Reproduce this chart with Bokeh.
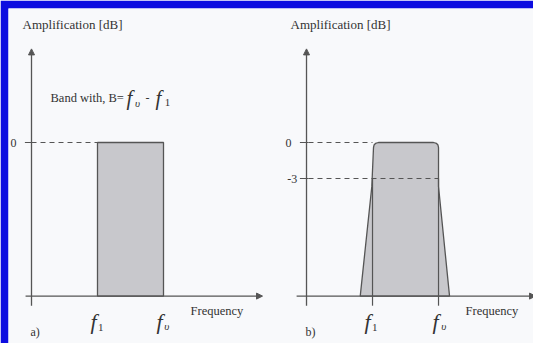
from bokeh.plotting import figure
from bokeh.models import Arrow, NormalHead, Range1d
from bokeh.core.properties import value
from bokeh.embed import file_html
from bokeh.resources import INLINE

# ---------------- data ----------------
f_lower = 1.0          # f1 (normalised frequency units)
f_upper = 2.0          # f_upsilon
passband_db = 0.0      # 0 dB level
cutoff_db = -3.0       # -3 dB level
floor_db = -12.8       # level where the frequency axis sits
y_tick_values_a = [0.0]
y_tick_labels_a = ["0"]
y_tick_values_b = [0.0, -3.0]
y_tick_labels_b = ["0", "-3"]
# panel b: real band-pass response outline (frequency, gain dB)
real_freq = [0.814, 0.989, 1.015, 1.023, 1.045, 1.09, 1.924, 1.97, 1.992, 2.0, 2.0, 2.167]
real_gain = [-12.8, -3.7, -0.42, -0.21, -0.08, 0.0, 0.0, -0.08, -0.21, -0.42, -3.67, -12.8]

# ---------------- style ----------------
BG = "#f8f9fb"
FRAME = "#0d0de0"
LINE = "#555555"
FILL = "#c8c8cc"
TXT = "#333333"
SERIF = value("Liberation Serif")

# one canvas, two panels: panel a on the default x range, panel b on "b"
p = figure(width=533, height=343, x_range=Range1d(-0.3485, 7.606),
           y_range=Range1d(-16.75, 11.167), x_axis_type=None, y_axis_type=None,
           toolbar_location=None, output_backend="svg", min_border=0)
p.extra_x_ranges = {"b": Range1d(-4.515, 3.439)}
p.min_border_top = 8
p.min_border_left = 8
p.grid.visible = False
p.outline_line_color = None
p.background_fill_color = BG
p.border_fill_color = FRAME


def axes(xr, x_left, x_tip):
    head = dict(size=6, fill_color=LINE, line_color=LINE)
    p.add_layout(Arrow(end=NormalHead(**head), x_start=0, y_start=-13.6, x_end=0, y_end=7.8,
                       line_color=LINE, line_width=1.3, x_range_name=xr))
    p.add_layout(Arrow(end=NormalHead(**head), x_start=x_left, y_start=floor_db, x_end=x_tip,
                       y_end=floor_db, line_color=LINE, line_width=1.3, x_range_name=xr))


def txt(xr, x, y, s, size="13px", style="normal", align="left"):
    p.text(x=[x], y=[y], text=[s], text_font=SERIF, text_font_size=value(size),
           text_font_style=value(style), text_color=TXT, text_align=align,
           text_baseline="middle", x_range_name=xr)


# ---------------- panel a: ideal ----------------
A = "default"
p.quad(left=[f_lower], right=[f_upper], top=[passband_db], bottom=[floor_db],
       fill_color=FILL, line_color=LINE, line_width=1.3)
axes(A, -0.09, 3.5)
for v in y_tick_values_a:
    p.segment(x0=[-0.1], y0=[v], x1=[0.05], y1=[v], line_color=LINE, line_width=1.2)
p.line(x=[0, f_lower], y=[passband_db, passband_db], line_color=LINE, line_width=1.2,
       line_dash="5 4")
for v, s in zip(y_tick_values_a, y_tick_labels_a):
    txt(A, -0.273, v, s, "12px", align="center")
txt(A, -0.136, 9.83, "Amplification [dB]")
txt(A, 0.288, 3.75, "Band with, B=", "12.5px")
txt(A, 1.485, 3.75, "f", "21px", "italic", "center")
txt(A, 1.606, 3.3, "υ", "11px", "italic", "center")
txt(A, 1.758, 3.75, "-", "12px", align="center")
txt(A, 1.924, 3.75, "f", "21px", "italic", "center")
txt(A, 2.06, 3.3, "1", "11px", align="center")
txt(A, f_lower - 0.061, -14.92, "f", "22px", "italic", "center")
txt(A, f_lower + 0.05, -15.42, "1", "11px", align="center")
txt(A, f_upper - 0.061, -14.92, "f", "22px", "italic", "center")
txt(A, f_upper + 0.05, -15.33, "υ", "11px", "italic", "center")
txt(A, 2.41, -14.0, "Frequency", "12.5px")
txt(A, -0.015, -15.75, "a)", "12px")

# ---------------- panel b: real ----------------
B = "b"
p.patch(x=real_freq, y=real_gain, fill_color=FILL, line_color=LINE, line_width=1.3,
        x_range_name=B)
axes(B, -0.15, 3.47)
for v in y_tick_values_b:
    p.segment(x0=[-0.1], y0=[v], x1=[0.03], y1=[v], line_color=LINE, line_width=1.2,
              x_range_name=B)
p.line(x=[0.03, f_lower], y=[passband_db, passband_db], line_color=LINE, line_width=1.2,
       line_dash="5 4", x_range_name=B)
p.line(x=[0.03, f_upper], y=[cutoff_db, cutoff_db], line_color=LINE, line_width=1.2,
       line_dash="5 4", x_range_name=B)
p.segment(x0=[f_lower, f_upper], y0=[cutoff_db, cutoff_db], x1=[f_lower, f_upper],
          y1=[-13.6, -13.6], line_color=LINE, line_width=1.2, x_range_name=B)
txt(B, -0.273, y_tick_values_b[0], y_tick_labels_b[0], "12px", align="center")
txt(B, -0.215, y_tick_values_b[1], y_tick_labels_b[1], "12px", align="center")
txt(B, -0.242, 9.83, "Amplification [dB]")
txt(B, f_lower - 0.076, -14.92, "f", "22px", "italic", "center")
txt(B, f_lower + 0.035, -15.42, "1", "11px", align="center")
txt(B, f_upper - 0.045, -14.92, "f", "22px", "italic", "center")
txt(B, f_upper + 0.08, -15.33, "υ", "11px", "italic", "center")
txt(B, 2.41, -14.0, "Frequency", "12.5px")
txt(B, -0.015, -15.75, "b)", "12px")

open("out.html", "w").write(file_html(p, INLINE))
